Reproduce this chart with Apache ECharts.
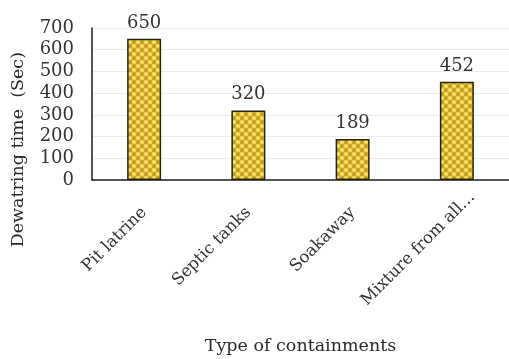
<!DOCTYPE html>
<html>
<head>
<meta charset="utf-8">
<script src="https://cdn.jsdelivr.net/npm/echarts@6/dist/echarts.min.js"></script>
<style>
  html, body { margin: 0; padding: 0; background: #ffffff; }
  #chart { width: 509px; height: 359px; }
</style>
</head>
<body>
<div id="chart"></div>
<script>
// Dewatering time per containment type
const categories = ['Pit latrine', 'Septic tanks', 'Soakaway', 'Mixture from all\u2026'];
const dewateringTime = [650, 320, 189, 452];
const yTicks = { min: 0, max: 700, step: 100 };

// Small dotted gold tile used as the bar fill
function dotPattern() {
  const c = document.createElement('canvas');
  c.width = 8; c.height = 8;
  const g = c.getContext('2d');
  g.fillStyle = '#b8901e';
  g.fillRect(0, 0, 8, 8);
  const dots = [[2, 2], [6, 6], [6, -2], [-2, 6], [10, 6], [6, 10], [2, 10], [10, 2]];
  dots.forEach(([x, y]) => {
    g.beginPath(); g.arc(x, y, 2.6, 0, Math.PI * 2);
    g.fillStyle = '#efcf3e'; g.fill();
    g.beginPath(); g.arc(x, y, 1.0, 0, Math.PI * 2);
    g.fillStyle = '#fbf0b8'; g.fill();
  });
  return c;
}

const serif = '"DejaVu Serif", "Liberation Serif", serif';
const chart = echarts.init(document.getElementById('chart'), null, { renderer: 'canvas' });

// the last, longest category label sits further up along its slant
const axisCategories = categories.map((name, i) =>
  i === categories.length - 1 ? { value: name, textStyle: { padding: [0, -22, 0, 0] } } : name
);

chart.setOption({
  animation: false,
  backgroundColor: '#ffffff',
  grid: { left: 92, right: -2, top: 28, bottom: 179, containLabel: false },
  xAxis: {
    type: 'category',
    data: axisCategories,
    name: 'Type of containments',
    nameLocation: 'middle',
    nameGap: 157,
    nameTextStyle: { fontFamily: serif, fontSize: 17.5, color: '#2a2a2a' },
    axisLine: { lineStyle: { color: '#1e1e1e', width: 1.5 } },
    axisTick: { show: false },
    axisLabel: {
      rotate: 45, margin: 30, interval: 0,
      fontFamily: serif, fontSize: 16.5, color: '#333333'
    }
  },
  yAxis: {
    type: 'value',
    min: yTicks.min, max: yTicks.max, interval: yTicks.step,
    axisLine: { show: true, lineStyle: { color: '#1e1e1e', width: 1.5 } },
    axisTick: { show: false },
    axisLabel: { margin: 18, fontFamily: serif, fontSize: 18, color: '#333333' },
    splitLine: { show: true, lineStyle: { color: '#ececec', width: 1 } }
  },
  graphic: [{
    type: 'text',
    left: 9, top: 52,
    rotation: Math.PI / 2,
    style: {
      text: 'Dewatring time  (Sec)',
      font: '17.5px ' + serif,
      fill: '#2a2a2a'
    }
  }],
  series: [{
    type: 'bar',
    data: dewateringTime,
    barWidth: 34,
    itemStyle: {
      color: { image: dotPattern(), repeat: 'repeat' },
      borderColor: '#2b2410',
      borderWidth: 1.5
    },
    label: {
      show: true, position: 'top', distance: 7,
      fontFamily: serif, fontSize: 18, color: '#333333'
    }
  }]
});
</script>
</body>
</html>
